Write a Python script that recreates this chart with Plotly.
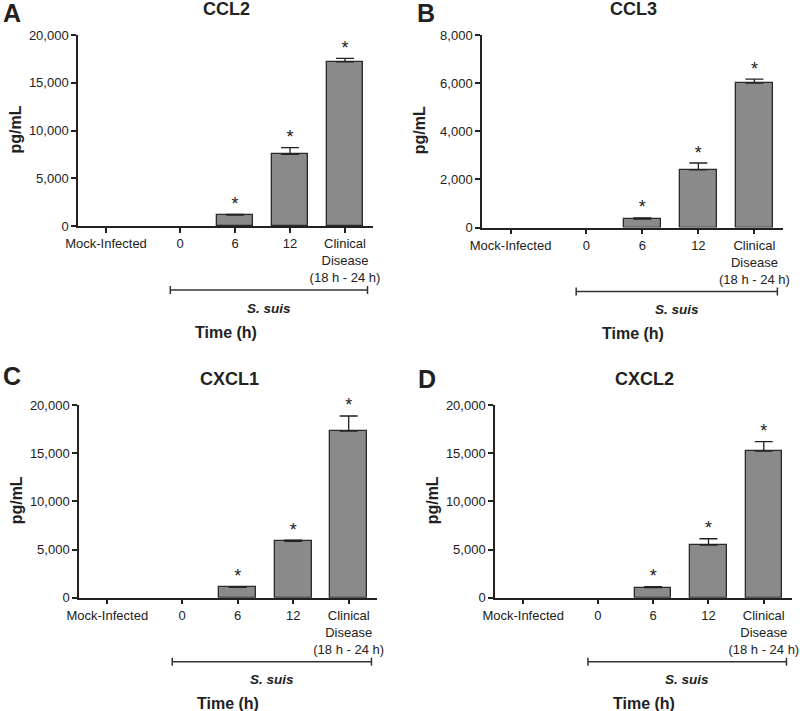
import plotly.graph_objects as go

# ---------------- data ----------------
categories = ["Mock-Infected", "0", "6", "12", "Clinical<br>Disease<br>(18 h - 24 h)"]
cat_pos = [0, 1.35, 2.35, 3.35, 4.35]          # category positions on the time axis
stars = ["", "", "*", "*", "*"]

ccl2_mean = [0, 0, 1150, 7500, 17200]
ccl2_sem = [0, 0, 70, 700, 350]

ccl3_mean = [0, 0, 350, 2400, 6000]
ccl3_sem = [0, 0, 50, 280, 170]

cxcl1_mean = [0, 0, 1080, 5850, 17300]
cxcl1_sem = [0, 0, 60, 120, 1560]

cxcl2_mean = [0, 0, 1040, 5470, 15220]
cxcl2_sem = [0, 0, 100, 650, 970]

titles = ["CCL2", "CCL3", "CXCL1", "CXCL2"]
letters = ["A", "B", "C", "D"]
y_max = [20000, 8000, 20000, 20000]
y_dtick = [5000, 2000, 5000, 5000]
bracket_span = [1.17, 4.76]   # extent of the "S. suis" bracket on the time axis

# ---------------- layout geometry (pixels) ----------------
W, H = 800, 711
# (x_left, x_right, y_top, y_bottom) of each plot area
boxes = [(78, 373, 35, 226), (482, 783, 35, 227.5),
         (79, 377, 405, 597.7), (495, 792, 405, 597.7)]
letter_xy = [(1, 13), (415, 13), (1, 376), (416, 379)]
FONT = "Arial, Liberation Sans, sans-serif"
INK = "#222222"

def px_x(v):
    return v / W

def px_y(v):
    return 1 - v / H

series = [(ccl2_mean, ccl2_sem), (ccl3_mean, ccl3_sem),
          (cxcl1_mean, cxcl1_sem), (cxcl2_mean, cxcl2_sem)]

fig = go.Figure()
annotations = []
shapes = []

for i, ((mean, sem), box) in enumerate(zip(series, boxes)):
    n = "" if i == 0 else str(i + 1)
    xa, ya = "x" + n, "y" + n
    xl, xr, yt, yb = box

    keep = [k for k, m in enumerate(mean) if m > 0]   # no bar drawn for undetected groups
    fig.add_trace(go.Bar(
        x=[cat_pos[k] for k in keep], y=[mean[k] for k in keep],
        xaxis=xa, yaxis=ya, width=0.66,
        marker=dict(color="#8a8a8a", line=dict(color="#2a2a2a", width=1.3)),
        error_y=dict(type="data", array=[sem[k] for k in keep],
                     arrayminus=[0] * len(keep), symmetric=False,
                     color=INK, thickness=1.3, width=9),
        hoverinfo="skip",
    ))
    fig.add_trace(go.Scatter(
        x=[cat_pos[k] for k in keep], y=[mean[k] + sem[k] for k in keep],
        xaxis=xa, yaxis=ya, mode="text", text=[stars[k] for k in keep],
        textposition="top center", cliponaxis=False,
        textfont=dict(family=FONT, size=18, color=INK), hoverinfo="skip",
    ))

    axis_common = dict(showline=True, linecolor=INK, linewidth=1.5,
                       ticks="outside", ticklen=5, tickwidth=1.5, tickcolor=INK,
                       showgrid=False, zeroline=False, automargin=False,
                       tickfont=dict(family=FONT, size=13, color=INK))
    fig.update_layout(**{
        "xaxis" + n: dict(domain=[px_x(xl), px_x(xr)], anchor=ya,
                          range=[-0.51, 4.86], tickvals=cat_pos,
                          ticktext=categories, fixedrange=True, **axis_common),
        "yaxis" + n: dict(domain=[px_y(yb), px_y(yt)], anchor=xa,
                          range=[0, y_max[i]], dtick=y_dtick[i],
                          tickformat=",d", fixedrange=True, **axis_common),
    })

    cx = (xl + xr) / 2
    # title
    annotations.append(dict(text="<b>%s</b>" % titles[i], x=px_x(cx + 1),
                            y=px_y(yt - 26), xref="paper", yref="paper",
                            showarrow=False, xanchor="center", yanchor="middle",
                            font=dict(family=FONT, size=18, color=INK)))
    # panel letter
    lx, ly = letter_xy[i]
    annotations.append(dict(text="<b>%s</b>" % letters[i], x=px_x(lx), y=px_y(ly),
                            xref="paper", yref="paper",
                            showarrow=False, xanchor="left", yanchor="middle",
                            font=dict(family=FONT, size=25, color=INK)))
    # y axis title
    annotations.append(dict(text="<b>pg/mL</b>", x=px_x(xl - 63), y=px_y((yt + yb) / 2 - 1),
                            xref="paper", yref="paper", showarrow=False,
                            textangle=-90, xanchor="center", yanchor="middle",
                            font=dict(family=FONT, size=16, color=INK)))
    # x axis title
    annotations.append(dict(text="<b>Time (h)</b>", x=px_x(cx), y=px_y(yb + 106),
                            xref="paper", yref="paper", showarrow=False,
                            xanchor="center", yanchor="middle",
                            font=dict(family=FONT, size=16, color=INK)))
    # bracket + S. suis label
    by = px_y(yb + 64)
    tk = 4 / H
    x0, x1 = bracket_span
    line = dict(color="#333333", width=1.5)
    shapes.append(dict(type="line", xref=xa, yref="paper", x0=x0, x1=x1, y0=by, y1=by, line=line))
    shapes.append(dict(type="line", xref=xa, yref="paper", x0=x0, x1=x0, y0=by - tk, y1=by + tk, line=line))
    shapes.append(dict(type="line", xref=xa, yref="paper", x0=x1, x1=x1, y0=by - tk, y1=by + tk, line=line))
    annotations.append(dict(text="<b><i>S. suis</i></b>", x=(x0 + x1) / 2, y=px_y(yb + 82),
                            xref=xa, yref="paper", showarrow=False,
                            xanchor="center", yanchor="middle",
                            font=dict(family=FONT, size=13.5, color=INK)))

fig.update_layout(width=W, height=H, margin=dict(l=0, r=0, t=0, b=0, autoexpand=False),
                  paper_bgcolor="white", plot_bgcolor="white", showlegend=False,
                  bargap=0, annotations=annotations, shapes=shapes,
                  font=dict(family=FONT, color=INK))

fig.write_html("out.html", config={"displayModeBar": False},
               post_script="document.body.style.margin='0';document.body.style.overflow='hidden';")
